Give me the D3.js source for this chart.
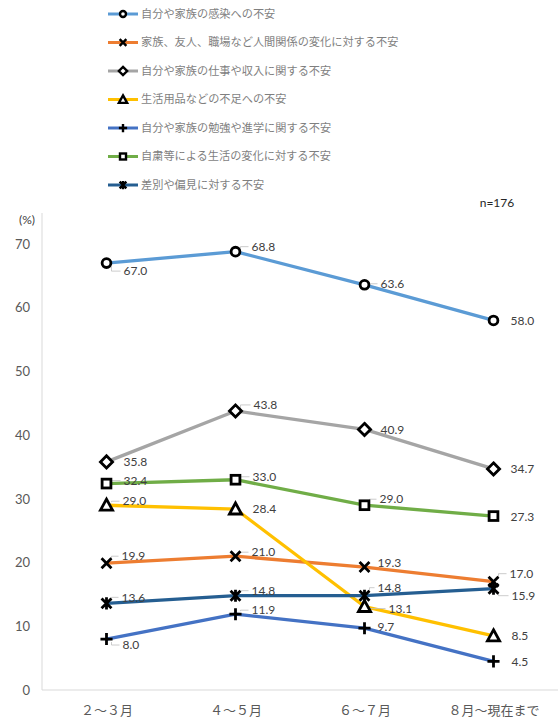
<!DOCTYPE html>
<html><head><meta charset="utf-8">
<script src="https://cdn.jsdelivr.net/npm/d3@7"></script>
<style>body{margin:0;background:#fff}svg{display:block}</style>
</head><body>
<svg id="c" width="558" height="722"></svg>
<script>
const categories = ["２～３月", "４～５月", "６～７月", "８月～現在まで"];
const seriesNames = [
  "自分や家族の感染への不安",
  "家族、友人、職場など人間関係の変化に対する不安",
  "自分や家族の仕事や収入に関する不安",
  "生活用品などの不足への不安",
  "自分や家族の勉強や進学に関する不安",
  "自粛等による生活の変化に対する不安",
  "差別や偏見に対する不安"
];
const infection = [67.0, 68.8, 63.6, 58.0];
const relations = [19.9, 21.0, 19.3, 17.0];
const income = [35.8, 43.8, 40.9, 34.7];
const supplies = [29.0, 28.4, 13.1, 8.5];
const study = [8.0, 11.9, 9.7, 4.5];
const lifestyle = [32.4, 33.0, 29.0, 27.3];
const discrimination = [13.6, 14.8, 14.8, 15.9];
const yTicks = [0, 10, 20, 30, 40, 50, 60, 70];
const sampleNote = "n=176";

const seriesValues = [infection, relations, income, supplies, study, lifestyle, discrimination];
const colors = ["#5B9BD5", "#ED7D31", "#A5A5A5", "#FFC000", "#4472C4", "#70AD47", "#255E91"];
const markers = ["circle", "x", "diamond", "triangle", "plus", "square", "star"];
// label offsets (dx, dy) relative to point, and whether a leader is drawn
const labelPos = [
  [[17, 8, 1], [16, -5, 1], [16, -1, 1], [17, 0, 0]],
  [[15, -7, 1], [16, -4, 1], [13, -4, 0], [16, -8, 1]],
  [[17, 0, 0], [18, -6, 1], [16, 0, 0], [17, 0, 0]],
  [[16, -4, 1], [17, 0, 0], [24, 2, 1], [18, 0, 0]],
  [[16, 6, 1], [16, -4, 1], [13, -1, 0], [18, 0, 0]],
  [[17, -3, 1], [17, -3, 1], [15, -6, 1], [17, 1, 0]],
  [[15, -6, 1], [16, -5, 1], [13, -8, 1], [18, 7, 1]]
];

const svg = d3.select("#c");
const x = d3.scalePoint().domain(categories).range([42, 558]).padding(0.5);
const y = d3.scaleLinear().domain([0, 70]).range([690, 244]);
const numFont = "Lato, 'Noto Sans', sans-serif";
const jpFont = "'Noto Sans CJK JP', sans-serif";

// axes
svg.append("line").attr("x1", 42).attr("x2", 42).attr("y1", 213).attr("y2", 690)
  .attr("stroke", "#d9d9d9").attr("stroke-width", 1);
svg.append("line").attr("x1", 42).attr("x2", 558).attr("y1", 690).attr("y2", 690)
  .attr("stroke", "#d9d9d9").attr("stroke-width", 1);

const yAxis = svg.append("g").attr("transform", "translate(42,0)")
  .call(d3.axisLeft(y).tickValues(yTicks).tickSize(0).tickPadding(12).tickFormat(d3.format("d")));
yAxis.select(".domain").remove();
yAxis.selectAll("text").attr("fill", "#595959").style("font-family", numFont).style("font-size", "13px");

const xAxis = svg.append("g").attr("transform", "translate(0,690)")
  .call(d3.axisBottom(x).tickSize(0).tickPadding(16));
xAxis.select(".domain").remove();
xAxis.selectAll("text").attr("fill", "#595959").style("font-family", jpFont).style("font-size", "13px");

svg.append("text").attr("x", 27).attr("y", 224).attr("text-anchor", "middle")
  .attr("fill", "#404040").style("font-family", numFont).style("font-size", "12px").text("(%)");
svg.append("text").attr("x", 497).attr("y", 207).attr("text-anchor", "middle")
  .attr("fill", "#262626").style("font-family", numFont).style("font-size", "12px").text(sampleNote);

function drawMarker(g, type, cx, cy, s, sw) {
  let el;
  if (type === "circle") el = g.append("circle").attr("cx", cx).attr("cy", cy).attr("r", s * 0.4).attr("fill", "#fff");
  else if (type === "square") el = g.append("rect").attr("x", cx - s * 0.4).attr("y", cy - s * 0.4).attr("width", s * 0.8).attr("height", s * 0.8).attr("fill", "#fff");
  else if (type === "diamond") el = g.append("path").attr("d", `M${cx},${cy - s * 0.55}L${cx + s * 0.55},${cy}L${cx},${cy + s * 0.55}L${cx - s * 0.55},${cy}Z`).attr("fill", "#fff");
  else if (type === "triangle") el = g.append("path").attr("d", `M${cx},${cy - s * 0.55}L${cx + s * 0.55},${cy + s * 0.45}L${cx - s * 0.55},${cy + s * 0.45}Z`).attr("fill", "#fff");
  else if (type === "x") el = g.append("path").attr("d", `M${cx - s * 0.45},${cy - s * 0.45}L${cx + s * 0.45},${cy + s * 0.45}M${cx + s * 0.45},${cy - s * 0.45}L${cx - s * 0.45},${cy + s * 0.45}`).attr("fill", "none");
  else if (type === "plus") el = g.append("path").attr("d", `M${cx - s * 0.55},${cy}L${cx + s * 0.55},${cy}M${cx},${cy - s * 0.55}L${cx},${cy + s * 0.55}`).attr("fill", "none");
  else el = g.append("path").attr("d", `M${cx - s * 0.45},${cy - s * 0.45}L${cx + s * 0.45},${cy + s * 0.45}M${cx + s * 0.45},${cy - s * 0.45}L${cx - s * 0.45},${cy + s * 0.45}M${cx},${cy - s * 0.55}L${cx},${cy + s * 0.55}`).attr("fill", "none");
  el.attr("stroke", "#000").attr("stroke-width", sw);
  return el;
}

const line = d3.line().x((d, i) => x(categories[i])).y(d => y(d));

// lines
seriesValues.forEach((vals, si) => {
  svg.append("path").datum(vals).attr("d", line).attr("fill", "none")
    .attr("stroke", colors[si]).attr("stroke-width", 3.3).attr("stroke-linejoin", "round");
});
// markers and labels
seriesValues.forEach((vals, si) => {
  const g = svg.append("g");
  vals.forEach((v, i) => {
    const cx = x(categories[i]), cy = y(v);
    const [dx, dy, lead] = labelPos[si][i];
    if (lead) {
      const sy = dy < 0 ? cy - 3 : cy + 3;
      g.append("path").attr("d", `M${cx + 5},${sy}L${cx + 5},${cy + dy}L${cx + dx - 3},${cy + dy}`)
        .attr("fill", "none").attr("stroke", "#bfbfbf").attr("stroke-width", 0.8);
    }
    drawMarker(g, markers[si], cx, cy, 11, 2.8);
    g.append("text").attr("x", cx + dx).attr("y", cy + dy).attr("dy", "0.35em")
      .attr("fill", "#404040").style("font-family", numFont).style("font-size", "12px")
      .text(d3.format(".1f")(v));
  });
});

// legend
seriesNames.forEach((name, si) => {
  const ly = 14 + si * 28.5;
  const g = svg.append("g");
  g.append("line").attr("x1", 108).attr("x2", 138).attr("y1", ly).attr("y2", ly)
    .attr("stroke", colors[si]).attr("stroke-width", 3);
  drawMarker(g, markers[si], 123, ly, 7.5, 2.4);
  g.append("text").attr("x", 141).attr("y", ly).attr("dy", "0.35em")
    .attr("fill", "#7f7f7f").style("font-family", jpFont).style("font-size", "11.2px").text(name);
});
</script>
</body></html>
